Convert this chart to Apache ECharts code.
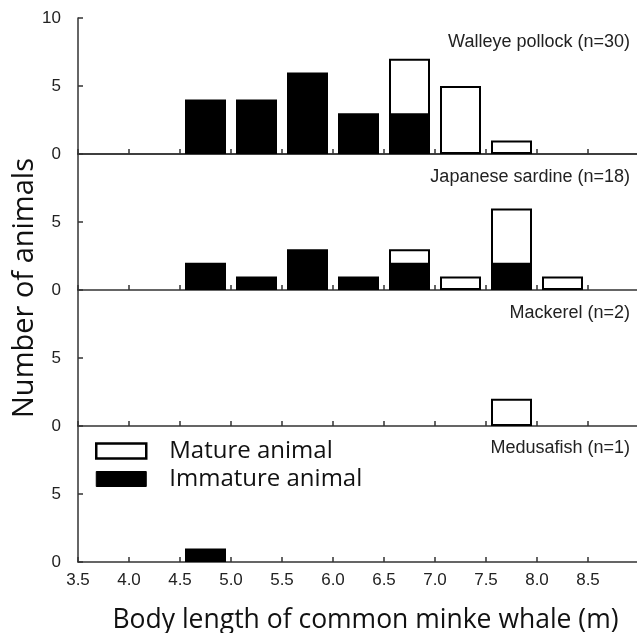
<!DOCTYPE html>
<html>
<head>
<meta charset="utf-8">
<script src="https://cdn.jsdelivr.net/npm/echarts@6/dist/echarts.min.js"></script>
<style>html,body{margin:0;padding:0;background:#fff}#c{width:637px;height:633px}</style>
</head>
<body>
<div id="c"></div>
<script>
var binCenters = [4.75, 5.25, 5.75, 6.25, 6.75, 7.25, 7.75, 8.25];
var panelNames = ['Walleye pollock (n=30)', 'Japanese sardine (n=18)', 'Mackerel (n=2)', 'Medusafish (n=1)'];
var pollockImmature = [4, 4, 6, 3, 3, 0, 0, 0];
var pollockMature   = [0, 0, 0, 0, 4, 5, 1, 0];
var sardineImmature = [2, 1, 3, 1, 2, 0, 2, 0];
var sardineMature   = [0, 0, 0, 0, 1, 1, 4, 1];
var mackerelImmature = [0, 0, 0, 0, 0, 0, 0, 0];
var mackerelMature   = [0, 0, 0, 0, 0, 0, 2, 0];
var medusaImmature = [1, 0, 0, 0, 0, 0, 0, 0];
var medusaMature   = [0, 0, 0, 0, 0, 0, 0, 0];
var xTicks = [3.5, 4.0, 4.5, 5.0, 5.5, 6.0, 6.5, 7.0, 7.5, 8.0, 8.5];

var immatureSets = [pollockImmature, sardineImmature, mackerelImmature, medusaImmature];
var matureSets = [pollockMature, sardineMature, mackerelMature, medusaMature];

var AX = '#333';
var TXT = '#222';
var LABF = 'Liberation Sans, Arial, sans-serif';
var BIGF = 'Open Sans, Lato, sans-serif';

// immature bars: their own counts
function immaturePairs(imm) {
  var out = [];
  for (var i = 0; i < imm.length; i++) if (imm[i] > 0) out.push([binCenters[i], imm[i]]);
  return out;
}
// mature bars: drawn as the stack top (immature + mature), behind the immature bar
function stackTopPairs(imm, mat) {
  var out = [];
  for (var i = 0; i < mat.length; i++) if (mat[i] > 0) out.push([binCenters[i], imm[i] + mat[i]]);
  return out;
}

var grids = [], xAxes = [], yAxes = [], series = [], titles = [];
for (var p = 0; p < 4; p++) {
  grids.push({left: 78, top: 18 + p * 136, width: 561, height: 136, outerBoundsMode: 'none', containLabel: false});
  xAxes.push({
    type: 'value', gridIndex: p, min: 3.5, max: 9.0, interval: 0.5,
    axisLine: {show: true, onZero: false, lineStyle: {color: AX, width: 1.5}},
    axisTick: {show: true, inside: true, length: 5, lineStyle: {color: AX, width: 1.5}},
    splitLine: {show: false},
    axisLabel: {
      show: p === 3, margin: 10, color: TXT, fontFamily: LABF, fontSize: 17,
      formatter: function (v) { return xTicks.indexOf(Math.round(v * 10) / 10) >= 0 ? v.toFixed(1) : ''; }
    },
    name: p === 3 ? 'Body length of common minke whale (m)' : '',
    nameLocation: 'middle', nameGap: 45,
    nameTextStyle: {color: '#111', fontFamily: BIGF, fontSize: 26.5, padding: [0, 0, 0, 14]}
  });
  yAxes.push({
    type: 'value', gridIndex: p, min: 0, max: 10, interval: 5,
    axisLine: {show: true, lineStyle: {color: AX, width: 1.5}},
    axisTick: {show: true, inside: true, length: 5, lineStyle: {color: AX, width: 1.5}},
    splitLine: {show: false},
    axisLabel: {
      margin: 17, color: TXT, fontFamily: LABF, fontSize: 17,
      formatter: (function (pp) { return function (v) { return (pp > 0 && v === 10) ? '' : String(v); }; })(p)
    }
  });
  series.push({
    name: 'Mature animal', type: 'bar', xAxisIndex: p, yAxisIndex: p,
    barWidth: 41, barGap: '-100%', z: 2, data: stackTopPairs(immatureSets[p], matureSets[p]),
    itemStyle: {color: '#fff', borderColor: '#000', borderWidth: 2}
  });
  series.push({
    name: 'Immature animal', type: 'bar', xAxisIndex: p, yAxisIndex: p,
    barWidth: 41, barGap: '-100%', z: 3, data: immaturePairs(immatureSets[p]),
    itemStyle: {color: '#000', borderColor: '#000', borderWidth: 1.5}
  });
  titles.push({
    text: panelNames[p], right: 2, top: 28 + p * 135.5,
    textStyle: {color: TXT, fontFamily: LABF, fontSize: 18, fontWeight: 'normal'}
  });
}
// top frame line of the first panel
xAxes.push({
  type: 'value', gridIndex: 0, position: 'top', min: 3.5, max: 9.0,
  axisLine: {show: true, lineStyle: {color: AX, width: 1.5}},
  axisTick: {show: false}, axisLabel: {show: false}, splitLine: {show: false}
});

var chart = echarts.init(document.getElementById('c'), null, {renderer: 'canvas'});
chart.setOption({
  animation: false,
  backgroundColor: '#fff',
  title: titles,
  grid: grids,
  xAxis: xAxes,
  yAxis: yAxes,
  legend: {
    orient: 'vertical', left: 95, top: 439, padding: 0, itemWidth: 50, itemHeight: 15, itemGap: 4,
    icon: 'rect',
    data: [
      {name: 'Mature animal', itemStyle: {color: '#fff', borderColor: '#000', borderWidth: 2.5}},
      {name: 'Immature animal', itemStyle: {color: '#000', borderColor: '#000', borderWidth: 1}}
    ],
    textStyle: {color: '#111', fontFamily: BIGF, fontSize: 24, lineHeight: 18, padding: [0, 0, 0, 18]}
  },
  graphic: [{
    type: 'text', x: 25, y: 288, rotation: Math.PI / 2,
    style: {text: 'Number of animals', fill: '#111', font: '29px "Open Sans", sans-serif',
      align: 'center', verticalAlign: 'middle'}
  }],
  series: series
});
</script>
</body>
</html>
